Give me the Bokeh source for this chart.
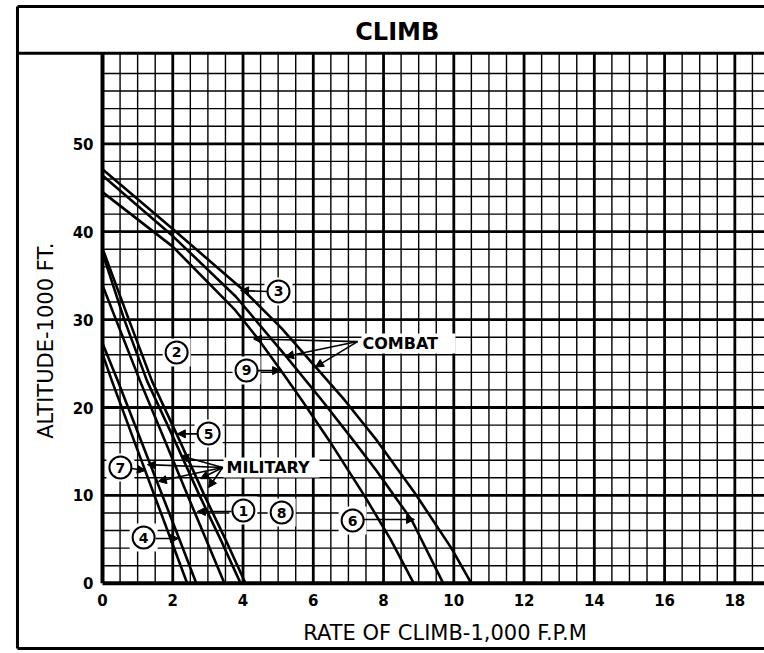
import numpy as np
from bokeh.plotting import figure
from bokeh.models import Range1d, LinearAxis, FixedTicker, Arrow, NormalHead
from bokeh.core.properties import value
from bokeh.embed import file_html
from bokeh.resources import INLINE

# ---------------- data (altitude in 1000 ft, rate of climb in 1000 fpm) -------------
combat_hi_alt = [47.1, 40.3, 33.4, 29.0, 24.6, 20.8, 16.2, 10.1, 4.0, 0.0]
combat_hi_roc = [0.0, 2.0, 4.0, 5.1, 6.07, 6.9, 7.82, 8.92, 9.93, 10.5]

combat_mid_alt = [46.4, 39.5, 32.6, 25.7, 20.8, 16.2, 12.8, 10.0, 7.2, 0.0]
combat_mid_roc = [0.0, 2.0, 3.8, 5.25, 6.25, 7.15, 7.8, 8.3, 8.8, 9.7]

combat_lo_alt = [44.5, 38.3, 31.2, 27.9, 24.2, 20.8, 16.2, 10.0, 5.0, 0.0]
combat_lo_roc = [0.0, 2.0, 3.75, 4.41, 5.08, 5.68, 6.46, 7.45, 8.2, 8.86]

mil_e_alt = [38.1, 30.0, 23.0, 16.2, 10.0, 5.0, 0.0]
mil_e_roc = [0.0, 0.75, 1.41, 2.2, 2.9, 3.5, 4.07]
mil_d_alt = [37.6, 30.0, 23.0, 16.2, 10.0, 5.0, 0.0]
mil_d_roc = [0.0, 0.62, 1.27, 2.06, 2.76, 3.36, 3.93]
mil_c_alt = [33.9, 23.0, 16.2, 8.1, 0.0]
mil_c_roc = [0.0, 1.07, 1.78, 2.62, 3.47]
mil_a_alt = [27.3, 23.0, 16.2, 5.1, 0.0]
mil_a_roc = [0.0, 0.44, 1.1, 2.18, 2.67]
mil_b_alt = [26.1, 23.0, 16.2, 0.0]
mil_b_roc = [0.0, 0.27, 0.9, 2.41]

x_ticks = [0, 2, 4, 6, 8, 10, 12, 14, 16, 18]
y_ticks = [0, 10, 20, 30, 40, 50]

# circled curve numbers
num_text = ["1", "2", "3", "4", "5", "6", "7", "8", "9"]
num_x = [4.01, 2.11, 5.01, 1.17, 3.02, 7.12, 0.51, 5.10, 4.10]
num_y = [8.28, 26.26, 33.2, 5.21, 17.04, 7.14, 13.17, 8.05, 24.21]

# arrows: (x_start, y_start, x_end, y_end)
arrows = [
    (4.70, 33.2, 3.93, 33.3),   # 3
    (4.41, 24.2, 5.07, 24.2),   # 9
    (7.26, 27.5, 4.30, 27.8),   # combat
    (7.26, 27.5, 5.21, 25.8),
    (7.26, 27.5, 6.06, 24.6),
    (2.70, 17.0, 2.13, 17.0),   # 5
    (0.83, 13.06, 1.22, 12.83), # 7
    (3.42, 13.17, 1.28, 13.5),  # military
    (3.42, 13.17, 1.59, 11.6),
    (3.42, 13.17, 2.22, 14.5),
    (3.42, 13.17, 2.79, 11.9),
    (3.42, 13.17, 3.02, 10.9),
    (3.67, 8.17, 2.70, 8.17),   # 1
    (1.51, 5.1, 2.16, 5.1),     # 4
    (7.43, 7.26, 8.88, 7.26),   # 6
]

word_text = ["COMBAT", "MILITARY"]
word_x = [7.40, 3.53]
word_y = [27.28, 13.17]

# ---------------- figure -------------
W, H = 764, 653
XS, XE = -2.9035, 18.844
YS, YE = -7.986, 66.303

p = figure(width=W, height=H, output_backend="svg", toolbar_location=None,
           x_range=Range1d(XS, XE), y_range=Range1d(YS, YE),
           x_axis_type=None, y_axis_type=None, min_border=0,
           min_border_left=0, min_border_right=0, min_border_top=0, min_border_bottom=0)
p.outline_line_color = None
p.background_fill_color = "white"
p.border_fill_color = "white"

TOP = 60.3
# grid
thin_x = [v for v in np.arange(0.5, 19.0, 0.5) if v % 2 != 0]
thick_x = [v for v in range(2, 19, 2)]
thin_y = [v for v in range(2, 60, 2) if v % 10 != 0]
thick_y = [10, 20, 30, 40, 50]
p.segment(x0=thin_x, y0=0, x1=thin_x, y1=TOP, line_color="black", line_width=1.4)
p.segment(x0=0, y0=thin_y, x1=XE + 1, y1=thin_y, line_color="black", line_width=1.4)
p.segment(x0=thick_x, y0=0, x1=thick_x, y1=TOP, line_color="black", line_width=2.8)
p.segment(x0=0, y0=thick_y, x1=XE + 1, y1=thick_y, line_color="black", line_width=2.8)
p.segment(x0=[0], y0=[0], x1=[0], y1=[TOP], line_color="black", line_width=4)
p.segment(x0=[0], y0=[0], x1=[XE + 1], y1=[0], line_color="black", line_width=4)

# outer frame and title band
FL, FT, FB = -2.42, 65.62, -7.42
p.segment(x0=[FL], y0=[FT], x1=[FL], y1=[FB], line_color="black", line_width=3)
p.segment(x0=[FL], y0=[FT], x1=[XE + 1], y1=[FT], line_color="black", line_width=3)
p.segment(x0=[FL], y0=[FB], x1=[XE + 1], y1=[FB], line_color="black", line_width=3)
p.segment(x0=[FL], y0=[TOP], x1=[XE + 1], y1=[TOP], line_color="black", line_width=3)

# white patches behind labels
p.rect(x=num_x, y=num_y, width=28, height=28, width_units="screen", height_units="screen",
       fill_color="white", line_color=None)
p.rect(x=[8.71, 4.81], y=[27.28, 13.17], width=[94, 96], height=20,
       width_units="screen", height_units="screen", fill_color="white", line_color=None)

# curves
for xs, ys in [(combat_hi_roc, combat_hi_alt), (combat_mid_roc, combat_mid_alt),
               (combat_lo_roc, combat_lo_alt), (mil_e_roc, mil_e_alt),
               (mil_d_roc, mil_d_alt), (mil_c_roc, mil_c_alt),
               (mil_a_roc, mil_a_alt), (mil_b_roc, mil_b_alt)]:
    p.line(xs, ys, line_color="black", line_width=2.6, line_join="round")

# arrows
for (x0, y0, x1, y1) in arrows:
    p.add_layout(Arrow(end=NormalHead(size=8, fill_color="black", line_color="black"),
                       x_start=x0, y_start=y0, x_end=x1, y_end=y1,
                       line_color="black", line_width=1.6))

# circled numbers
p.scatter(x=num_x, y=num_y, marker="circle", size=22, fill_color="white",
          line_color="black", line_width=2)
p.text(x=num_x, y=num_y, text=num_text, text_align="center", text_baseline="middle",
       text_font=value("DejaVu Sans"), text_font_size=value("14px"), text_font_style="bold",
       text_color="black")

p.text(x=word_x, y=word_y, text=word_text, text_align="left", text_baseline="middle",
       text_font=value("DejaVu Sans"), text_font_size=value("16px"), text_font_style="bold",
       text_color="black")

# title and axis titles
p.text(x=[8.39], y=[62.75], text=["CLIMB"], text_align="center", text_baseline="middle",
       text_font=value("DejaVu Sans"), text_font_size=value("24px"), text_font_style="bold",
       text_color="black")
p.text(x=[9.75], y=[-5.7], text=["RATE OF CLIMB-1,000 F.P.M"], text_align="center",
       text_baseline="middle", text_font=value("DejaVu Sans"), text_font_size=value("21px"),
       text_color="black")
p.text(x=[-1.61], y=[27.6], text=["ALTITUDE-1000 FT."], angle=np.pi / 2, text_align="center",
       text_baseline="middle", text_font=value("DejaVu Sans"), text_font_size=value("21px"),
       text_color="black")

# axes
xaxis = LinearAxis(fixed_location=0, ticker=FixedTicker(ticks=x_ticks))
yaxis = LinearAxis(fixed_location=0, ticker=FixedTicker(ticks=y_ticks))
for ax, so in [(xaxis, 5), (yaxis, 3)]:
    ax.axis_line_color = None
    ax.major_tick_line_color = None
    ax.minor_tick_line_color = None
    ax.major_label_standoff = so
    ax.major_label_text_font = "DejaVu Sans"
    ax.major_label_text_font_size = "15px"
    ax.major_label_text_font_style = "bold"
    ax.major_label_text_color = "black"
p.add_layout(xaxis, "below")
p.add_layout(yaxis, "left")

open("out.html", "w").write(file_html(p, INLINE))
